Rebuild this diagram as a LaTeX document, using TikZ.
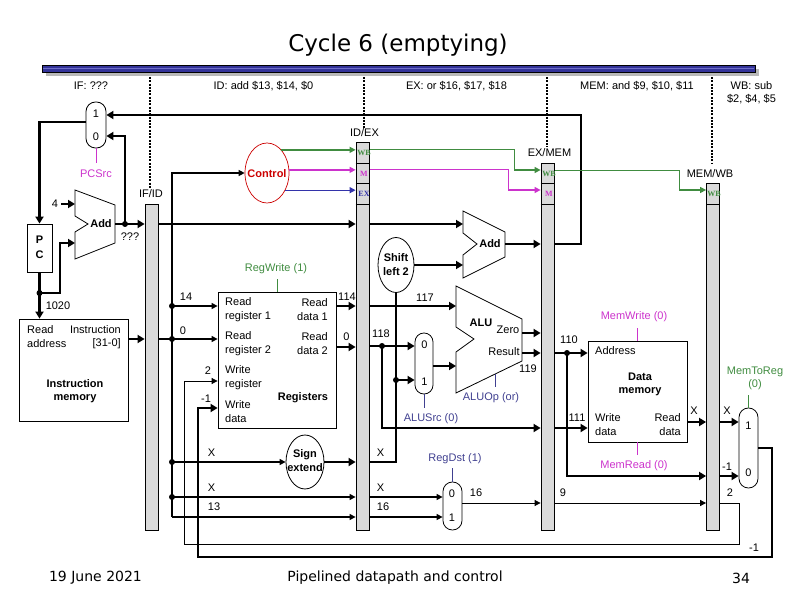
\documentclass[tikz,border=0pt]{standalone}
\usepackage{fontspec}
\setmainfont{Liberation Sans}
\newfontfamily\titlefont{DejaVu Sans}
\newfontfamily\fieldfont{Liberation Serif}
\usetikzlibrary{arrows.meta,shapes.geometric}
\definecolor{ctrlred}{RGB}{204,0,0}
\definecolor{wbgreen}{RGB}{64,140,64}
\definecolor{memmag}{RGB}{204,51,204}
\definecolor{exblue}{RGB}{51,51,170}
\definecolor{navylab}{RGB}{64,64,144}
\definecolor{bargray}{RGB}{218,218,218}
\definecolor{barblue}{RGB}{51,51,153}
\definecolor{barlight}{RGB}{110,110,200}
\tikzset{
 txt/.style={inner sep=0pt, font=\fontsize{11}{14}\selectfont},
 bold/.style={inner sep=0pt, font=\fontsize{11}{14}\selectfont\bfseries},
 field/.style={inner sep=0pt, font=\fieldfont\fontsize{8}{8}\selectfont\bfseries},
 tk/.style={line width=2.6pt},
 md/.style={line width=1.3pt},
 tn/.style={line width=0.8pt},
 arrT/.style={-{Triangle[length=7pt,width=8pt]}},
 arrS/.style={-{Triangle[length=6pt,width=6pt]}},
 pipereg/.style={draw, fill=bargray, line width=0.8pt, inner sep=0pt, minimum width=13pt},
 muxbox/.style={draw, line width=0.8pt, inner sep=0pt, fill=white},
 blockbox/.style={draw, line width=0.8pt, inner sep=0pt, fill=white},
 jdot/.style={circle, fill, inner sep=0pt, minimum size=6pt},
 stagesep/.style={line width=2.6pt, dash pattern=on 2pt off 1.3pt},
 oval/.style={ellipse, draw, line width=0.8pt, inner sep=0pt, fill=white},
}
\begin{document}
\begin{tikzpicture}[x=1pt,y=-1pt]
\useasboundingbox (0,0) rectangle (792,612);
% title and bar
\node[font=\titlefont\fontsize{23}{26}\selectfont] (title) at (398,45) {Cycle 6 (emptying)};
\fill[gray!55] (46,69) rectangle (759,76);
\draw[fill=barblue, line width=0.9pt] (42,65) rectangle (755,72);
\draw[barlight, line width=1.6pt] (43,68.5) -- (754,68.5);
% stage labels
\node[txt] (sIF) at (91,86) {IF: ???};
\node[txt] (sID) at (263.5,86) {ID: add \$13, \$14, \$0};
\node[txt] (sEX) at (456.5,86) {EX: or \$16, \$17, \$18};
\node[txt] (sMEM) at (637,86) {MEM: and \$9, \$10, \$11};
\node[txt, align=center, font=\fontsize{11}{13}\selectfont] (sWB) at (751.5,92.5) {WB: sub\\\$2, \$4, \$5};
% stage separators
\coordinate (s1a) at (150,77); \coordinate (s1b) at (150,188);
\coordinate (s2a) at (364,77); \coordinate (s2b) at (364,128);
\coordinate (s3a) at (547,77); \coordinate (s3b) at (547,147);
\coordinate (s4a) at (712,77); \coordinate (s4b) at (712,163);
\draw[stagesep] (s1a) -- (s1b);
\draw[stagesep] (s2a) -- (s2b);
\draw[stagesep] (s3a) -- (s3b);
\draw[stagesep] (s4a) -- (s4b);
% pipeline registers
\node[pipereg, minimum height=326pt] (ifid) at (151.5,367) {};
\node[pipereg, minimum width=13.5pt, minimum height=388pt] (idex) at (362.75,336) {};
\node[pipereg, minimum width=13.5pt, minimum height=367pt] (exmem) at (547.75,346.5) {};
\node[pipereg, minimum width=12.5pt, minimum height=347pt] (memwb) at (712.75,356.5) {};
\node[txt] (lifid) at (151,194) {IF/ID};
\node[txt] (lidex) at (364.5,133) {ID/EX};
\node[txt] (lexmem) at (549.5,153) {EX/MEM};
\node[txt] (lmemwb) at (710,174) {MEM/WB};
\foreach \yy in {163,183,204} \draw[tn] (idex.west |- 0,\yy) -- (idex.east |- 0,\yy);
\foreach \yy in {183,204} \draw[tn] (exmem.west |- 0,\yy) -- (exmem.east |- 0,\yy);
\draw[tn] (memwb.west |- 0,204) -- (memwb.east |- 0,204);
\node[field, text=wbgreen] (f1) at (364,153) {WB};
\node[field, text=memmag] (f2) at (364,173.5) {M};
\node[field, text=exblue] (f3) at (364,194) {EX};
\node[field, text=wbgreen] (f4) at (549,173.5) {WB};
\node[field, text=memmag] (f5) at (549,194) {M};
\node[field, text=wbgreen] (f6) at (714,194) {WB};
% blocks
\node[muxbox, rounded corners=9.5pt, minimum width=20pt, minimum height=46pt] (pcmux) at (96,125) {};
\node[txt] at (96,114) {1};
\node[txt] at (96,136.5) {0};
\node[blockbox, minimum width=25pt, minimum height=48pt] (pc) at (39.5,248) {};
\node[bold] at (39.5,240) {P};
\node[bold] at (39.5,255) {C};
\node[blockbox, minimum width=109pt, minimum height=102pt] (imem) at (73.5,370) {};
\node[txt, anchor=west] at (27,330) {Read};
\node[txt, anchor=east] at (121,330) {Instruction};
\node[txt, anchor=west] at (27,344) {address};
\node[txt, anchor=east] at (121,344) {[31-0]};
\node[bold, align=center, font=\fontsize{11}{13}\selectfont\bfseries] at (75,391.5) {Instruction\\memory};
\node[oval, draw=ctrlred, line width=0.7pt, minimum width=44pt, minimum height=60pt] (ctrl) at (267,173) {};
\node[bold, text=ctrlred] at (267,174) {Control};
\node[blockbox, minimum width=118pt, minimum height=136pt] (regs) at (277,360) {};
\node[txt, anchor=west, align=left] at (225,310) {Read\\register 1};
\node[txt, anchor=east, align=right] at (328,310) {Read\\data 1};
\node[txt, anchor=west, align=left] at (225,344) {Read\\register 2};
\node[txt, anchor=east, align=right] at (328,344) {Read\\data 2};
\node[txt, anchor=west, align=left] at (225,378) {Write\\register};
\node[txt, anchor=west, align=left] at (225,411.5) {Write\\data};
\node[bold] at (303,398) {Registers};
\node[oval, minimum width=38pt, minimum height=54pt] (sext) at (305,462) {};
\node[bold, align=center] at (305,461) {Sign\\extend};
\node[oval, minimum width=36pt, minimum height=55pt] (shift) at (396,265) {};
\node[bold, align=center] at (396,265) {Shift\\left 2};
\node[muxbox, rounded corners=8.9pt, minimum width=18pt, minimum height=61pt] (alusrc) at (424,363.5) {};
\node[txt] at (424.5,344.5) {0};
\node[txt] at (424.5,381.5) {1};
\node[muxbox, rounded corners=9.4pt, minimum width=19pt, minimum height=48pt] (regdst) at (452.5,506) {};
\node[txt] at (452,493.5) {0};
\node[txt] at (452,518) {1};
\node[blockbox, minimum width=99pt, minimum height=101pt] (dmem) at (637.5,391.5) {};
\node[txt, anchor=west] at (595,351) {Address};
\node[bold, align=center, font=\fontsize{11}{13}\selectfont\bfseries] at (640,384.5) {Data\\memory};
\node[txt, anchor=west, align=left] at (595,425) {Write\\data};
\node[txt, anchor=east, align=right] at (681,425) {Read\\data};
\node[muxbox, rounded corners=9.4pt, minimum width=19pt, minimum height=80pt] (mtr) at (748.5,448) {};
\node[txt] at (748.5,425.5) {1};
\node[txt] at (748.5,472.5) {0};
% adders and ALU
\draw[tn, fill=white] (75,190) -- (115,205) -- (115,243) -- (75,259) -- (75,232) -- (88,224) -- (75,216) -- cycle;
\node[bold] (add1) at (101,224) {Add};
\draw[tn, fill=white] (463,211) -- (505,232) -- (505,257) -- (463,278) -- (463,255) -- (477,244) -- (463,233) -- cycle;
\node[bold] (add2) at (490,244) {Add};
\draw[tn, fill=white] (456,286) -- (522,319) -- (522,361) -- (456,393) -- (456,352) -- (474,339) -- (456,327) -- cycle;
\node[bold] (alu) at (481,323) {ALU};
\node[txt] (zero) at (508,330) {Zero};
\node[txt] (result) at (504,352) {Result};
% ---------------- IF stage connectors
\draw[tk, arrT] (pcmux.west |- 0,122) -| (pc.north);
\draw[tk, arrT] (pc.south) -- (pc.south |- imem.north);
\node[jdot] (d1) at (pc.south |- 0,293) {};
\draw[tk, arrT] (d1.center) -| (60,243) -- (75,243);
\node[txt] (four) at (55,204) {4};
\draw[tk, arrT] ([xshift=3pt]four.east) -- (75,204);
\draw[tk, arrT] (115,224) -- (ifid.west |- 0,224);
\node[jdot] (d2) at (125,224) {};
\draw[tk, arrT] (d2.center) -- (125,136) -- (pcmux.east |- 0,136);
\node[txt] at (130,237) {???};
\draw[tk, arrT] (exmem.east |- 0,244) -- (581,244) -- (581,115) -- (pcmux.east |- 0,115);
\draw[tn, memmag] (pcmux.south) -- (96,163);
\node[txt, text=memmag] (pcsrc) at (96,174) {PCSrc};
\node[txt] at (58,306) {1020};
\draw[tk, arrT] (imem.east |- 0,339) -- (ifid.west |- 0,339);
% ---------------- ID stage connectors
\draw[md] (ifid.east |- 0,339) -- (172,339);
\draw[md, arrS] (172,517) -- (172,173) -- (ctrl.west);
\node[jdot] (b1) at (172,306) {};
\node[jdot] (b2) at (172,339) {};
\node[jdot] (b3) at (172,462) {};
\node[jdot] (b4) at (172,497) {};
\draw[md, arrS] (b1.center) -- (regs.west |- b1);
\draw[md, arrS] (b2.center) -- (regs.west |- b2);
\draw[md, arrS] (b3.center) -- (sext.west);
\draw[md, arrS] (b4.center) -- (idex.west |- b4);
\draw[md, arrS] (172,517) -- (idex.west |- 0,517);
\node[txt] at (186,297) {14};
\node[txt] at (183,331) {0};
\node[txt] at (208,371) {2};
\node[txt] at (206,399) {-1};
\node[txt] at (211.5,453) {X};
\node[txt] at (211.5,488) {X};
\node[txt] at (214,507) {13};
\draw[tk, arrT] (ifid.east |- 0,224) -- (idex.west |- 0,224);
\draw[tk, arrT] (idex.east |- 0,224) -- (463,224);
\draw[md, wbgreen, arrS] (ctrl.58) -- (idex.west |- ctrl.58);
\draw[md, memmag, arrS] (ctrl.8) -- (idex.west |- ctrl.8);
\draw[md, exblue, arrS] (ctrl.-43) -- (idex.west |- ctrl.-43);
\draw[tn, wbgreen] (regs.north) -- (277,279);
\node[txt, text=wbgreen] at (276,269) {RegWrite (1)};
\draw[tk, arrT] (regs.east |- 0,306) -- (idex.west |- 0,306);
\draw[tk, arrT] (regs.east |- 0,347) -- (idex.west |- 0,347);
\node[txt] at (347,297) {114};
\node[txt] at (346.5,336.5) {0};
\draw[tk, arrT] (sext.east) -- (idex.west |- sext.east);
% ---------------- EX stage connectors
\draw[tn, wbgreen] (idex.east |- ctrl.58) -| (514,170);
\draw[md, wbgreen, arrS] (514,170) -- (exmem.west |- 0,170);
\draw[tn, memmag] (idex.east |- ctrl.8) -| (508,190);
\draw[md, memmag, arrS] (508,190) -- (exmem.west |- 0,190);
\draw[tk, arrT] (idex.east |- 0,306) -- (456,306);
\node[txt] at (425,298) {117};
\draw[tk, arrT] (idex.east |- 0,346) -- (alusrc.west |- 0,346);
\node[txt] at (381,334) {118};
\node[jdot] (e1) at (382,346) {};
\draw[tk, arrT] (e1.center) -- (382,428) -- (exmem.west |- 0,428);
\draw[tk] (idex.east |- 0,462) -| (shift.south);
\node[txt] at (380.5,453) {X};
\node[jdot] (e2) at (shift.south |- 0,380) {};
\draw[tk, arrT] (e2.center) -- (alusrc.west |- e2);
\draw[tk, arrT] (shift.east) -- (463,265);
\draw[tk, arrT] (505,244) -- (exmem.west |- 0,244);
\draw[tk, arrT] (alusrc.east |- 0,366) -- (456,366);
\draw[tn, navylab] (alusrc.south) -- (424,408);
\node[txt, text=navylab] at (431,419) {ALUSrc (0)};
\draw[tn, navylab] (495,374) -- (495,387);
\node[txt, text=navylab] at (491,398) {ALUOp (or)};
\draw[tk, arrT] (522,333) -- (exmem.west |- 0,333);
\draw[tk, arrT] (522,353) -- (exmem.west |- 0,353);
\node[txt] at (528,369) {119};
\draw[md, arrS] (idex.east |- 0,497) -- (regdst.west |- 0,497);
\draw[md, arrS] (idex.east |- 0,517) -- (regdst.west |- 0,517);
\node[txt] at (380.5,488) {X};
\node[txt] at (383,507) {16};
\draw[tn, navylab] (regdst.north) -- (452.5,468);
\node[txt, text=navylab] at (455,459) {RegDst (1)};
\draw[tn, arrS] (regdst.east |- 0,503) -- (exmem.west |- 0,503);
\node[txt] at (476,493) {16};
% ---------------- MEM stage connectors
\draw[tn, wbgreen] (exmem.east |- 0,170) -| (679,190);
\draw[md, wbgreen, arrS] (679,190) -- (memwb.west |- 0,190);
\draw[tk, arrT] (exmem.east |- 0,353) -- (dmem.west |- 0,353);
\node[txt] at (569,340) {110};
\node[jdot] (m1) at (567,353) {};
\draw[tk, arrT] (m1.center) -- (567,476) -- (memwb.west |- 0,476);
\draw[tk, arrT] (exmem.east |- 0,428) -- (dmem.west |- 0,428);
\node[txt] at (577,418) {111};
\draw[tn, memmag] (dmem.north) -- (637.5,328);
\node[txt, text=memmag] at (634,317) {MemWrite (0)};
\draw[tn, memmag] (dmem.south) -- (637.5,455);
\node[txt, text=memmag] at (634,466) {MemRead (0)};
\draw[tk, arrT] (dmem.east |- 0,422) -- (memwb.west |- 0,422);
\node[txt] at (694,411) {X};
\draw[tn, arrS] (exmem.east |- 0,503) -- (memwb.west |- 0,503);
\node[txt] at (563,493) {9};
% ---------------- WB stage connectors
\draw[tk, arrT] (memwb.east |- 0,422) -- (mtr.west |- 0,422);
\draw[tk, arrT] (memwb.east |- 0,476) -- (mtr.west |- 0,476);
\node[txt] at (727,411) {X};
\node[txt] at (727,467) {-1};
\draw[tn, wbgreen] (mtr.north) -- (748.5,395);
\node[txt, text=wbgreen, align=center, font=\fontsize{11}{13}\selectfont] at (755,378) {MemToReg\\(0)};
\draw[tk, arrT] (mtr.east |- 0,448) -- (772,448) -- (772,557) -- (198,557) -- (198,408) -- (regs.west |- 0,408);
\node[txt] at (754,548) {-1};
\draw[tn, arrS] (memwb.east |- 0,503) -- (739,503) -- (739,544) -- (184,544) -- (184,381) -- (regs.west |- 0,381);
\node[txt] at (730,493) {2};
% footer
\node[font=\titlefont\fontsize{14}{16}\selectfont] (date) at (95.5,578) {19 June 2021};
\node[font=\titlefont\fontsize{14}{16}\selectfont] (foot) at (395,578) {Pipelined datapath and control};
\node[font=\titlefont\fontsize{14}{16}\selectfont] (page) at (741,578) {34};
\end{tikzpicture}
\end{document}
